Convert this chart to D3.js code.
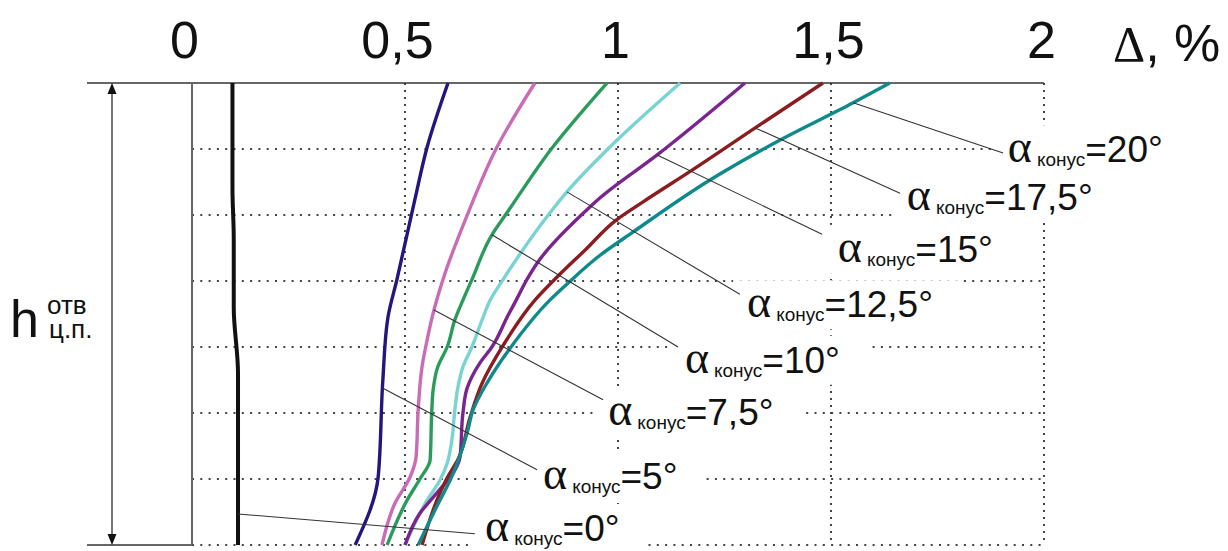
<!DOCTYPE html>
<html>
<head>
<meta charset="utf-8">
<script src="https://cdn.jsdelivr.net/npm/d3@7"></script>
<style>
  body { margin: 0; background: #fff; }
  svg { display: block; font-family: "Liberation Sans", Arial, sans-serif; }
</style>
</head>
<body>
<div id="chart"></div>
<script>
// Top axis ticks (Δ, %) and horizontal grid rows (h in grid steps, top = 0)
const tickVals = [0, 0.5, 1, 1.5, 2];
const gridRows = [1, 2, 3, 4, 5, 6, 7];

// Curve names
const angles = ["0", "5", "7,5", "10", "12,5", "15", "17,5", "20"];

// Each curve: [h, Δ]
const alpha0 = [[0, 0.095], [1.6, 0.095], [2.35, 0.098], [3.4, 0.098], [4.4, 0.108], [7, 0.108]];
const alpha5 = [[0, 0.601], [0.97, 0.552], [1.77, 0.523], [2.98, 0.481], [3.55, 0.46], [4.5, 0.448], [5.97, 0.437], [7, 0.383]];
const alpha7_5 = [[0, 0.805], [0.97, 0.716], [1.97, 0.648], [2.98, 0.589], [3.44, 0.568], [3.89, 0.552], [4.3, 0.54],
  [4.95, 0.531], [5.67, 0.526], [5.97, 0.512], [6.36, 0.477], [7, 0.446]];
const alpha10 = [[0, 0.974], [0.97, 0.847], [1.97, 0.739], [2.3, 0.704], [2.98, 0.657], [3.29, 0.636], [3.59, 0.617],
  [4.0, 0.599], [4.3, 0.577], [4.65, 0.566], [4.95, 0.563], [5.71, 0.559], [6.0, 0.535], [6.32, 0.505], [7, 0.458]];
const alpha12_5 = [[0, 1.146], [0.97, 0.981], [1.65, 0.88], [1.97, 0.84], [2.98, 0.73], [3.29, 0.7],
  [3.59, 0.681], [4.0, 0.657], [4.3, 0.636], [4.62, 0.624], [4.95, 0.617], [5.41, 0.61], [5.76, 0.599],
  [6.02, 0.582], [6.32, 0.552], [7, 0.5]];
const alpha15 = [[0, 1.298], [1.09, 1.092], [1.74, 0.958], [1.88, 0.934], [2.73, 0.81], [2.98, 0.786], [3.29, 0.761],
  [3.52, 0.742], [4.0, 0.704], [4.24, 0.676], [4.62, 0.646], [5.0, 0.636], [5.67, 0.629], [5.91, 0.613],
  [6.21, 0.575], [6.52, 0.535], [7, 0.5]];
const alpha17_5 = [[0, 1.481], [0.68, 1.322], [1.32, 1.174], [1.8, 1.059], [2.08, 0.995], [2.53, 0.923], [2.94, 0.857],
  [3.29, 0.805], [3.98, 0.73], [4.55, 0.681], [5.06, 0.653], [5.71, 0.624], [5.98, 0.599], [6.32, 0.575], [7, 0.54]];
const alpha20 = [[0, 1.638], [0.3, 1.552], [0.89, 1.373], [1.47, 1.216], [2.26, 1.035], [2.61, 0.958], [3.03, 0.883],
  [3.29, 0.84], [3.98, 0.751], [4.55, 0.692], [4.95, 0.66], [5.3, 0.646], [6.02, 0.606], [6.32, 0.582], [7, 0.531]];

const series = [alpha0, alpha5, alpha7_5, alpha10, alpha12_5, alpha15, alpha17_5, alpha20];
const colors = ["#111111", "#24167c", "#c96cb5", "#2b9b5b", "#7ad3d3", "#7b2490", "#8b1c1f", "#0f8a8c"];

// Annotation: h where the leader leaves the curve, leader end [Δ, h], label start [Δ, h]
const leaderH = [6.53, 4.62, 3.44, 2.3, 1.65, 1.09, 0.68, 0.3];
const leaderEnd = [[0.664, 6.83], [0.81, 5.86], [0.965, 4.8], [1.141, 4.0], [1.286, 3.2], [1.479, 2.29], [1.662, 1.67], [1.904, 1.06]];
const labelAt = [[0.688, 6.94], [0.824, 6.15], [0.977, 5.18], [1.157, 4.39], [1.303, 3.55], [1.516, 2.71], [1.678, 1.92], [1.915, 1.2]];

const width = 1228, height = 551;

const svg = d3.select("#chart")
  .append("svg")
  .attr("width", width)
  .attr("height", height);

const x = d3.scaleLinear().domain([0, 2]).range([192, 1044]);
const y = d3.scaleLinear().domain([0, 7]).range([83, 545]);

// Dotted grid
svg.append("g")
  .selectAll("line")
  .data(gridRows)
  .enter()
  .append("line")
  .attr("x1", x(0))
  .attr("x2", x(2))
  .attr("y1", (d) => y(d))
  .attr("y2", (d) => y(d))
  .attr("stroke", "#444")
  .attr("stroke-width", 2)
  .attr("stroke-dasharray", "2,6.3");

svg.append("g")
  .selectAll("line")
  .data(tickVals.slice(1))
  .enter()
  .append("line")
  .attr("x1", (d) => x(d))
  .attr("x2", (d) => x(d))
  .attr("y1", y(0))
  .attr("y2", y(7))
  .attr("stroke", "#444")
  .attr("stroke-width", 2)
  .attr("stroke-dasharray", "2,5");

// white boxes behind labels go here
const boxes = svg.append("g");

// Frame lines
svg.append("line")
  .attr("x1", 87).attr("x2", x(2))
  .attr("y1", y(0)).attr("y2", y(0))
  .attr("stroke", "#333").attr("stroke-width", 1.6);
svg.append("line")
  .attr("x1", 87).attr("x2", x(0))
  .attr("y1", y(7)).attr("y2", y(7))
  .attr("stroke", "#333").attr("stroke-width", 1.6);
svg.append("line")
  .attr("x1", x(0)).attr("x2", x(0))
  .attr("y1", y(0)).attr("y2", y(7))
  .attr("stroke", "#666").attr("stroke-width", 2);

// Top axis
const axis = svg.append("g")
  .attr("transform", `translate(0,${y(0)})`)
  .call(d3.axisTop(x)
    .tickValues(tickVals)
    .tickSize(0)
    .tickPadding(25)
    .tickFormat((d) => String(d).replace(".", ",")));
axis.select(".domain").remove();
axis.selectAll("text")
  .attr("font-family", "'Liberation Sans', Arial, sans-serif")
  .attr("font-size", "52px")
  .attr("fill", "#111")
  .attr("dx", (d) => d < 1 ? -8 : -3);

// Δ, %
const unit = svg.append("text")
  .attr("x", 1113)
  .attr("y", y(0) - 22)
  .attr("fill", "#111");
unit.append("tspan")
  .attr("font-family", "'Liberation Serif', 'Times New Roman', serif")
  .attr("font-size", "50px")
  .text("Δ");
unit.append("tspan")
  .attr("font-size", "52px")
  .text(", %");

// Height arrow
const ax = 112;
svg.append("line")
  .attr("x1", ax).attr("x2", ax)
  .attr("y1", y(0) + 4).attr("y2", y(7) - 4)
  .attr("stroke", "#555").attr("stroke-width", 1.6);
svg.append("path")
  .attr("d", `M${ax},${y(0)} L${ax - 4.5},${y(0) + 11} L${ax + 4.5},${y(0) + 11} Z`)
  .attr("fill", "#111");
svg.append("path")
  .attr("d", `M${ax},${y(7)} L${ax - 4.5},${y(7) - 11} L${ax + 4.5},${y(7) - 11} Z`)
  .attr("fill", "#111");

// h label
svg.append("text")
  .attr("x", 10).attr("y", 337)
  .attr("font-size", "52px").attr("fill", "#111")
  .text("h");
svg.append("text")
  .attr("x", 47).attr("y", 314)
  .attr("font-size", "26px").attr("fill", "#111")
  .text("отв");
svg.append("text")
  .attr("x", 49).attr("y", 338)
  .attr("font-size", "26px").attr("fill", "#111")
  .text("ц.п.");

// Curves
const line = d3.line()
  .x((d) => x(d[1]))
  .y((d) => y(d[0]))
  .curve(d3.curveMonotoneY);

svg.append("g")
  .selectAll("path")
  .data(series)
  .enter()
  .append("path")
  .attr("d", line)
  .attr("fill", "none")
  .attr("stroke", (d, i) => colors[i])
  .attr("stroke-width", (d, i) => i === 0 ? 4 : 3.4)
  .attr("stroke-linejoin", "round");

// find Δ on a curve at height h
function deltaAt(pts, h) {
  for (let k = 1; k < pts.length; k++) {
    if (h <= pts[k][0]) {
      const t = (h - pts[k - 1][0]) / (pts[k][0] - pts[k - 1][0]);
      return pts[k - 1][1] + t * (pts[k][1] - pts[k - 1][1]);
    }
  }
  return pts[pts.length - 1][1];
}

// Leaders
svg.append("g")
  .selectAll("line")
  .data(angles)
  .enter()
  .append("line")
  .attr("x1", (d, i) => x(deltaAt(series[i], leaderH[i])))
  .attr("y1", (d, i) => y(leaderH[i]))
  .attr("x2", (d, i) => x(leaderEnd[i][0]))
  .attr("y2", (d, i) => y(leaderEnd[i][1]))
  .attr("stroke", "#333")
  .attr("stroke-width", 1.1);

// Labels
const labels = svg.append("g")
  .selectAll("text")
  .data(angles)
  .enter()
  .append("text")
  .attr("x", (d, i) => x(labelAt[i][0]))
  .attr("y", (d, i) => y(labelAt[i][1]))
  .attr("fill", "#111");

labels.append("tspan")
  .attr("font-family", "'Liberation Serif', 'Times New Roman', serif")
  .attr("font-size", "46px")
  .text("α");
labels.append("tspan")
  .attr("font-size", "19px")
  .attr("dx", 5)
  .attr("dy", 4)
  .text("конус");
labels.append("tspan")
  .attr("font-size", "37px")
  .attr("dy", -4)
  .text((d) => "=" + d + "°");

labels.each(function () {
  const b = this.getBBox();
  boxes.append("rect")
    .attr("x", b.x - 14)
    .attr("y", b.y + 4)
    .attr("width", b.width + 42)
    .attr("height", b.height - 2)
    .attr("fill", "#fff");
});
</script>
</body>
</html>
